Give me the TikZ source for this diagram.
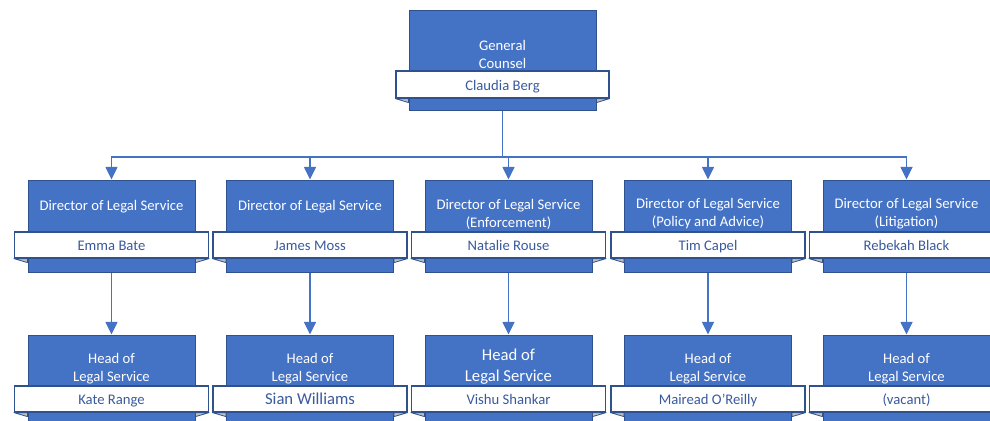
\documentclass[tikz,border=0pt]{standalone}
\usepackage{fontspec}
\setmainfont{Carlito}
\usetikzlibrary{arrows.meta,calc}
\definecolor{boxblue}{HTML}{4472C4}
\definecolor{bdr}{HTML}{2F528F}
\definecolor{nametext}{HTML}{3A5A9E}
\definecolor{tailgrey}{HTML}{BFBFBF}
\definecolor{linkblue}{HTML}{4472C4}
\newcommand{\drawtails}[2]{%
  \filldraw[tail] (#1.south west) -- (#1.south west -| #2.west) -- ($(#1.south west -| #2.west)+(0,4)$) -- cycle;
  \filldraw[tail] (#1.south east) -- (#1.south east -| #2.east) -- ($(#1.south east -| #2.east)+(0,4)$) -- cycle;}
\begin{document}
\begin{tikzpicture}[x=0.75pt,y=-0.75pt,
  box/.style={draw=bdr,fill=boxblue,line width=0.75pt,inner sep=0pt,minimum width=125.25pt,minimum height=69pt},
  topbox/.style={box,minimum width=140.25pt,minimum height=75pt},
  headbox/.style={box,minimum height=82.5pt},
  banner/.style={draw=bdr,fill=white,line width=0.9pt,inner sep=0pt,minimum width=145.5pt,minimum height=19.5pt,
    text=nametext,font=\fontsize{11}{13.5}\selectfont,text height=9pt,text depth=0.4pt},
  topbanner/.style={banner,minimum width=159.75pt,minimum height=20.25pt},
  title/.style={text=white,align=center,inner sep=0pt,font=\fontsize{11}{13.5}\selectfont},
  bigtitle/.style={title,font=\fontsize{12.5}{15.75}\selectfont},
  bigname/.style={font=\fontsize{12.5}{15}\selectfont,text height=9pt,text depth=1pt},
  tail/.style={fill=tailgrey,draw=bdr,line width=0.6pt,line join=round},
  conn/.style={draw=linkblue,line width=1.1pt},
  arrow/.style={conn,-{Triangle[width=9pt,length=9.5pt]}}
]
\useasboundingbox (0,0) rectangle (990,421);
\clip (0,0) rectangle (990,421);

% General Counsel
\node[topbox] (gc) at (502.5,60) {};
\node[title] (gct) at (502.5,54) {General\\Counsel};
\node[topbanner] (gcb) at (502.5,84.5) {Claudia Berg};
\drawtails{gcb}{gc}

% Directors
\node[box] (d1) at (111.5,226) {};
\node[box] (d2) at (310,226) {};
\node[box] (d3) at (508.5,226) {};
\node[box] (d4) at (708,226) {};
\node[box] (d5) at (906.5,226) {};
\node[title] (d1t) at (111.5,206.5) {Director of Legal Service};
\node[title] (d2t) at (310,206.5) {Director of Legal Service};
\node[title] (d3t) at (508.5,214) {Director of Legal Service\\(Enforcement)};
\node[title] (d4t) at (708,214) {Director of Legal Service\\(Policy and Advice)};
\node[title] (d5t) at (906.5,214) {Director of Legal Service\\(Litigation)};
\node[banner] (d1b) at (111.5,245) {Emma Bate};
\node[banner] (d2b) at (310,245) {James Moss};
\node[banner] (d3b) at (508.5,245) {Natalie Rouse};
\node[banner] (d4b) at (708,245) {Tim Capel};
\node[banner] (d5b) at (906.5,245) {Rebekah Black};
\drawtails{d1b}{d1}
\drawtails{d2b}{d2}
\drawtails{d3b}{d3}
\drawtails{d4b}{d4}
\drawtails{d5b}{d5}

% Heads
\node[headbox] (h1) at (111.5,390) {};
\node[headbox] (h2) at (310,390) {};
\node[headbox] (h3) at (508.5,390) {};
\node[headbox] (h4) at (708,390) {};
\node[headbox] (h5) at (906.5,390) {};
\node[title] (h1t) at (111.5,368.5) {Head of\\Legal Service};
\node[title] (h2t) at (310,369) {Head of\\Legal Service};
\node[bigtitle] (h3t) at (508.5,366.5) {Head of\\Legal Service};
\node[title] (h4t) at (708,369) {Head of\\Legal Service};
\node[title] (h5t) at (906.5,368.5) {Head of\\Legal Service};
\node[banner] (h1b) at (111.5,399) {Kate Range};
\node[banner,bigname] (h2b) at (310,399) {Sian Williams};
\node[banner] (h3b) at (508.5,399) {Vishu Shankar};
\node[banner] (h4b) at (708,399) {Mairead O’Reilly};
\node[banner] (h5b) at (906.5,399) {(vacant)};
\drawtails{h1b}{h1}
\drawtails{h2b}{h2}
\drawtails{h3b}{h3}
\drawtails{h4b}{h4}
\drawtails{h5b}{h5}

% Connectors
\coordinate (bar) at (502.5,157);
\draw[conn] (gc.south) -- (bar);
\draw[arrow] (bar) -| (d1.north);
\draw[arrow] (bar) -| (d2.north);
\draw[arrow] (bar) -| (d3.north);
\draw[arrow] (bar) -| (d4.north);
\draw[arrow] (bar) -| (d5.north);
\draw[arrow] (d1.south) -- (h1.north);
\draw[arrow] (d2.south) -- (h2.north);
\draw[arrow] (d3.south) -- (h3.north);
\draw[arrow] (d4.south) -- (h4.north);
\draw[arrow] (d5.south) -- (h5.north);
\end{tikzpicture}
\end{document}
